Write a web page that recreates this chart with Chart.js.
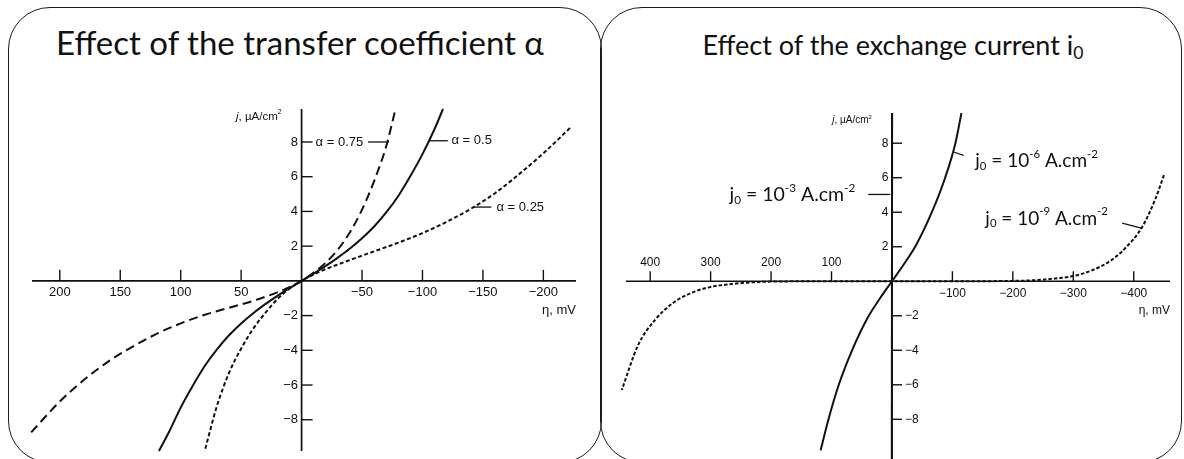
<!DOCTYPE html>
<html>
<head>
<meta charset="utf-8">
<script src="https://cdn.jsdelivr.net/npm/chart.js@4.4.1/dist/chart.umd.min.js"></script>
<style>
  body { margin: 0; width: 1184px; height: 459px; overflow: hidden; position: relative; background: #fff; }
  .panel { position: absolute; top: 7px; height: 456px; border: 1.6px solid #1c1c1c; border-radius: 42px; box-sizing: border-box; }
  .title { position: absolute; font-family: Lato, "Open Sans", sans-serif; color: #111; white-space: nowrap; transform: translateX(-50%); }
  .title sub { font-size: 0.65em; vertical-align: -0.25em; }
  canvas { position: absolute; top: 0; }
</style>
</head>
<body>
<div class="panel" style="left:8px; width:594px;"></div>
<div class="panel" style="left:600px; width:582px;"></div>
<div class="title" style="left:300px; top:22px; font-size:33px;">Effect of the transfer coefficient α</div>
<div class="title" style="left:893px; top:28px; font-size:27px;">Effect of the exchange current i<sub>0</sub></div>
<canvas id="alphaChart" width="600" height="459" style="left:0"></canvas>
<canvas id="currentChart" width="584" height="459" style="left:600px"></canvas>

<script>
// ---- left chart: transfer coefficient (eta in mV, j in uA/cm2) ----
const etaAlpha075 = [-77, -70, -60, -50, -40, -30, -20, -10, 0, 10, 20, 40, 60, 80, 100, 120, 140, 160, 180, 200, 224];
const jAlpha075 = [9.7, 7.75, 5.75, 4.1, 2.8, 1.8, 1.05, 0.48, 0, -0.36, -0.66, -1.15, -1.55, -1.95, -2.45, -3.05, -3.8, -4.65, -5.7, -6.95, -8.75];

const etaAlpha05 = [-117, -110, -100, -90, -80, -70, -60, -50, -40, -30, -20, -10, 0, 10, 20, 30, 40, 50, 60, 70, 80, 90, 100, 110, 118];
const jAlpha05 = [9.9, 8.75, 7.3, 6.04, 4.89, 3.94, 3.13, 2.45, 1.86, 1.34, 0.86, 0.42, 0, -0.42, -0.86, -1.34, -1.86, -2.45, -3.13, -3.94, -4.89, -6.04, -7.3, -8.75, -9.8];

const etaAlpha025 = [-222, -200, -180, -160, -140, -120, -100, -80, -60, -40, -20, -10, 0, 10, 20, 30, 40, 50, 60, 70, 80];
const jAlpha025 = [8.8, 7.35, 6.15, 5.05, 4.15, 3.4, 2.75, 2.2, 1.7, 1.2, 0.68, 0.37, 0, -0.45, -1.05, -1.85, -2.75, -3.9, -5.3, -7.2, -9.76];

// ---- right chart: exchange current ----
const etaJ03 = [0.25, -0.25];
const jJ03 = [-10.3, 9.75];

const etaJ06 = [-115, -105, -88, -66, -40, -20, 0, 20, 40, 66, 88, 105, 118];
const jJ06 = [9.75, 8.0, 6.0, 4.0, 2.1, 1.0, 0, -1.0, -2.1, -4.0, -6.0, -8.0, -9.8];

const etaJ09 = [-450, -435, -414, -384, -360, -330, -300, -270, -240, -200, -100, 0, 100, 200, 240, 270, 300, 330, 360, 391, 420, 447];
const jJ09 = [6.15, 4.7, 3.15, 1.85, 1.15, 0.62, 0.3, 0.16, 0.07, 0.02, 0, 0, 0, -0.02, -0.08, -0.18, -0.33, -0.65, -1.2, -2.2, -3.7, -6.3];

// tick labels
const xTicksAlpha = [200, 150, 100, 50, -50, -100, -150, -200];
const xTicksCurrent = [400, 300, 200, 100, -100, -200, -300, -400];
const yTicks = [8, 6, 4, 2, -2, -4, -6, -8];

const INK = "#111";
const toPoints = (xs, ys) => xs.map((x, i) => ({ x: x, y: ys[i] }));
const minusSign = (v) => (v < 0 ? "\u2212" + Math.abs(v) : String(v));

// draw text made of pieces, some raised or lowered
function drawRich(ctx, parts, x, y, size, family, align) {
  const small = size * 0.6;
  let total = 0;
  parts.forEach((p) => {
    ctx.font = (p.italic ? "italic " : "") + (p.sup || p.sub ? small : size) + "px " + family;
    p.w = ctx.measureText(p.t).width;
    total += p.w;
  });
  let cx = align === "right" ? x - total : x;
  ctx.textAlign = "left";
  ctx.textBaseline = "middle";
  parts.forEach((p) => {
    ctx.font = (p.italic ? "italic " : "") + (p.sup || p.sub ? small : size) + "px " + family;
    let dy = 0;
    if (p.sup) dy = -size * 0.36;
    if (p.sub) dy = size * 0.26;
    ctx.fillText(p.t, cx, y + dy);
    cx += p.w;
  });
}

const helv = "'Liberation Sans', Arial, sans-serif";
const calib = "Lato, 'Open Sans', sans-serif";

const sketchAxes = {
  id: "sketchAxes",
  beforeDatasetsDraw(chart, args, o) {
    const ctx = chart.ctx;
    const xs = chart.scales.x, ys = chart.scales.y, area = chart.chartArea;
    const x0 = xs.getPixelForValue(0), y0 = ys.getPixelForValue(0);
    ctx.save();
    ctx.strokeStyle = INK;
    ctx.fillStyle = INK;
    ctx.lineWidth = 1.7;
    ctx.beginPath();
    ctx.moveTo(area.left, y0); ctx.lineTo(area.right, y0);
    ctx.moveTo(x0, area.top); ctx.lineTo(x0, area.bottom);
    ctx.stroke();

    ctx.lineWidth = 1.4;
    ctx.font = o.tickSize + "px " + helv;
    ctx.textBaseline = "middle";
    o.xTicks.forEach((v) => {
      const px = xs.getPixelForValue(v);
      ctx.beginPath();
      ctx.moveTo(px, y0); ctx.lineTo(px, y0 - o.tickLen);
      ctx.stroke();
      const above = o.xLabelsAbove && v > 0;
      ctx.textAlign = "center";
      ctx.fillText(minusSign(v), px, above ? y0 - 18.5 : y0 + 12);
    });
    o.yTicks.forEach((v) => {
      const py = ys.getPixelForValue(v);
      ctx.beginPath();
      ctx.moveTo(x0, py); ctx.lineTo(x0 + o.tickLen, py);
      ctx.stroke();
      if (o.yNegRight && v < 0) {
        ctx.textAlign = "left";
        ctx.fillText(minusSign(v), x0 + o.tickLen + 3, py);
      } else {
        ctx.textAlign = "right";
        ctx.fillText(minusSign(v), x0 - 3.5, py);
      }
    });

    drawRich(ctx, [{ t: "j", italic: true }, { t: ", \u00b5A/cm" }, { t: "2", sup: true }],
      x0 - 20, area.top + 7.5, o.unitSize, helv, "right");
    drawRich(ctx, [{ t: "\u03b7, mV" }], area.right, y0 + 29.5, o.tickSize, helv, "right");
    ctx.restore();
  },
  afterDatasetsDraw(chart, args, o) {
    const ctx = chart.ctx;
    const xs = chart.scales.x, ys = chart.scales.y;
    ctx.save();
    ctx.strokeStyle = INK;
    ctx.fillStyle = INK;
    ctx.lineWidth = 1.3;
    o.labels.forEach((lb) => {
      ctx.beginPath();
      ctx.moveTo(xs.getPixelForValue(lb.line[0]), ys.getPixelForValue(lb.line[1]));
      ctx.lineTo(xs.getPixelForValue(lb.line[2]), ys.getPixelForValue(lb.line[3]));
      ctx.stroke();
      drawRich(ctx, lb.parts, xs.getPixelForValue(lb.at[0]), ys.getPixelForValue(lb.at[1]),
        lb.size, lb.family, lb.align);
    });
    ctx.restore();
  }
};

function curve(xs, ys, dash) {
  return {
    data: toPoints(xs, ys),
    borderColor: INK,
    borderWidth: 2,
    borderDash: dash,
    pointRadius: 0,
    cubicInterpolationMode: "monotone",
    clip: false
  };
}

const jLabel = (exp) => [{ t: "j" }, { t: "0", sub: true }, { t: " = 10" }, { t: exp, sup: true }, { t: " A.cm" }, { t: "-2", sup: true }];

new Chart(document.getElementById("alphaChart"), {
  type: "line",
  data: {
    datasets: [
      curve(etaAlpha075, jAlpha075, [9, 5]),
      curve(etaAlpha05, jAlpha05, []),
      curve(etaAlpha025, jAlpha025, [4, 2.5])
    ]
  },
  options: {
    responsive: false,
    animation: false,
    layout: { padding: { left: 32, right: 24, top: 109, bottom: 8 } },
    scales: {
      x: { type: "linear", display: false, reverse: true, min: -227, max: 223 },
      y: { type: "linear", display: false, min: -9.8, max: 9.9 }
    },
    plugins: {
      legend: { display: false },
      tooltip: { enabled: false },
      sketchAxes: {
        xTicks: xTicksAlpha, yTicks: yTicks, tickLen: 11, tickSize: 13, unitSize: 11.5,
        xLabelsAbove: false, yNegRight: false,
        labels: [
          { line: [-55, 8, -72.4, 8], at: [-51, 8], align: "right", size: 13, family: helv,
            parts: [{ t: "\u03b1 = 0.75" }] },
          { line: [-106, 8.07, -121, 8.07], at: [-124, 8.07], align: "left", size: 13, family: helv,
            parts: [{ t: "\u03b1 = 0.5" }] },
          { line: [-142.4, 4.25, -157, 4.25], at: [-161.2, 4.25], align: "left", size: 13, family: helv,
            parts: [{ t: "\u03b1 = 0.25" }] }
        ]
      }
    }
  },
  plugins: [sketchAxes]
});

new Chart(document.getElementById("currentChart"), {
  type: "line",
  data: {
    datasets: [
      curve(etaJ03, jJ03, []),
      curve(etaJ06, jJ06, []),
      curve(etaJ09, jJ09, [3.5, 2])
    ]
  },
  options: {
    responsive: false,
    animation: false,
    layout: { padding: { left: 26, right: 14, top: 113, bottom: 0 } },
    scales: {
      x: { type: "linear", display: false, reverse: true, min: -460, max: 440 },
      y: { type: "linear", display: false, min: -10.3, max: 9.75 }
    },
    plugins: {
      legend: { display: false },
      tooltip: { enabled: false },
      sketchAxes: {
        xTicks: xTicksCurrent, yTicks: yTicks, tickLen: 10, tickSize: 12, unitSize: 10,
        xLabelsAbove: true, yNegRight: true,
        labels: [
          { line: [39.2, 5.03, 2.8, 5.03], at: [60.8, 5.0], align: "right", size: 19.5, family: calib,
            parts: jLabel("-3") },
          { line: [-102, 7.49, -118.6, 7.3], at: [-137.9, 6.95], align: "left", size: 19, family: calib,
            parts: jLabel("-6") },
          { line: [-380.9, 3.37, -414, 3.06], at: [-154.5, 3.64], align: "left", size: 19, family: calib,
            parts: jLabel("-9") }
        ]
      }
    }
  },
  plugins: [sketchAxes]
});
</script>
</body>
</html>
